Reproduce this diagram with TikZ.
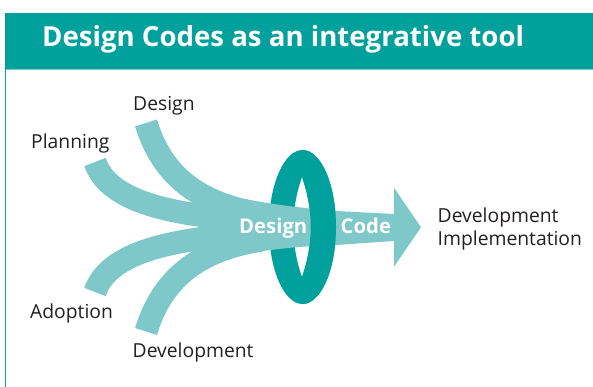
\documentclass[tikz,border=0pt]{standalone}
\usepackage{fontspec}
\setmainfont{Open Sans}
\definecolor{teal1}{RGB}{0,161,157}
\definecolor{lteal}{RGB}{126,200,201}
\definecolor{ink}{RGB}{35,31,32}
\begin{document}
\begin{tikzpicture}[x=1pt,y=-1pt,
  band/.style={draw=lteal,line width=23pt,line cap=butt},
  lbl/.style={anchor=base west,inner sep=0pt,text=ink,font=\fontsize{19.3}{22}\selectfont},
  onband/.style={anchor=base west,inner sep=0pt,text=white,font=\fontsize{20.3}{22}\selectfont\bfseries},
  ringfill/.style={fill=teal1,even odd rule}]
\useasboundingbox (0,0) rectangle (593,387);
% header
\fill[teal1] (4.5,13) rectangle (593,69.3);
\draw[lteal,line width=1pt] (4.5,69.8) -- (593,69.8);
\draw[teal1,line width=1.3pt] (5.2,69) -- (5.2,387);
\node[anchor=base west,inner sep=0pt,text=white,font=\fontsize{27.6}{30}\selectfont\bfseries] (title) at (42,46.5) {Design Codes as an integrative tool};
% ring (full)
\path[ringfill] (302.5,227) ellipse [x radius=33.5,y radius=77]
  (302,177) .. controls (313.6,210) and (313.6,244) .. (302,277)
  .. controls (290.4,244) and (290.4,210) .. (302,177);
% bands
\draw[band] (146,123) .. controls (160,168) and (190,203) .. (262,214);
\draw[band] (95,162) .. controls (108,200) and (165,214) .. (245,220);
\draw[band] (95,292) .. controls (108,254) and (165,240) .. (245,234);
\draw[band] (146,331.5) .. controls (160,286) and (190,251) .. (262,240);
% main shaft and arrow head
\fill[lteal] (225,195) .. controls (260,203) and (300,208) .. (336,211) -- (394,214)
  -- (394,187.7) -- (421,227.3) -- (394,266.7) -- (394,241) -- (336,245)
  .. controls (300,246) and (260,250) .. (225,258) -- cycle;
% ring right half over the band
\begin{scope}
  \clip (302.5,100) rectangle (400,350);
  \path[ringfill] (302.5,227) ellipse [x radius=33.5,y radius=77]
    (302,177) .. controls (313.6,210) and (313.6,244) .. (302,277)
    .. controls (290.4,244) and (290.4,210) .. (302,177);
\end{scope}
% texts
\node[onband] (dsg) at (239,233.5) {Design};
\node[onband] (code) at (340.5,233.5) {Code};
\node[lbl] (lDesign) at (133,111) {Design};
\node[lbl] (lPlan) at (31,149) {Planning};
\node[lbl] (lAdopt) at (30,318.3) {Adoption};
\node[lbl] (lDev) at (132.5,357.7) {Development};
\node[lbl] (lDev2) at (437.5,222.3) {Development};
\node[lbl] (lImpl) at (437.5,245) {Implementation};
\end{tikzpicture}
\end{document}
